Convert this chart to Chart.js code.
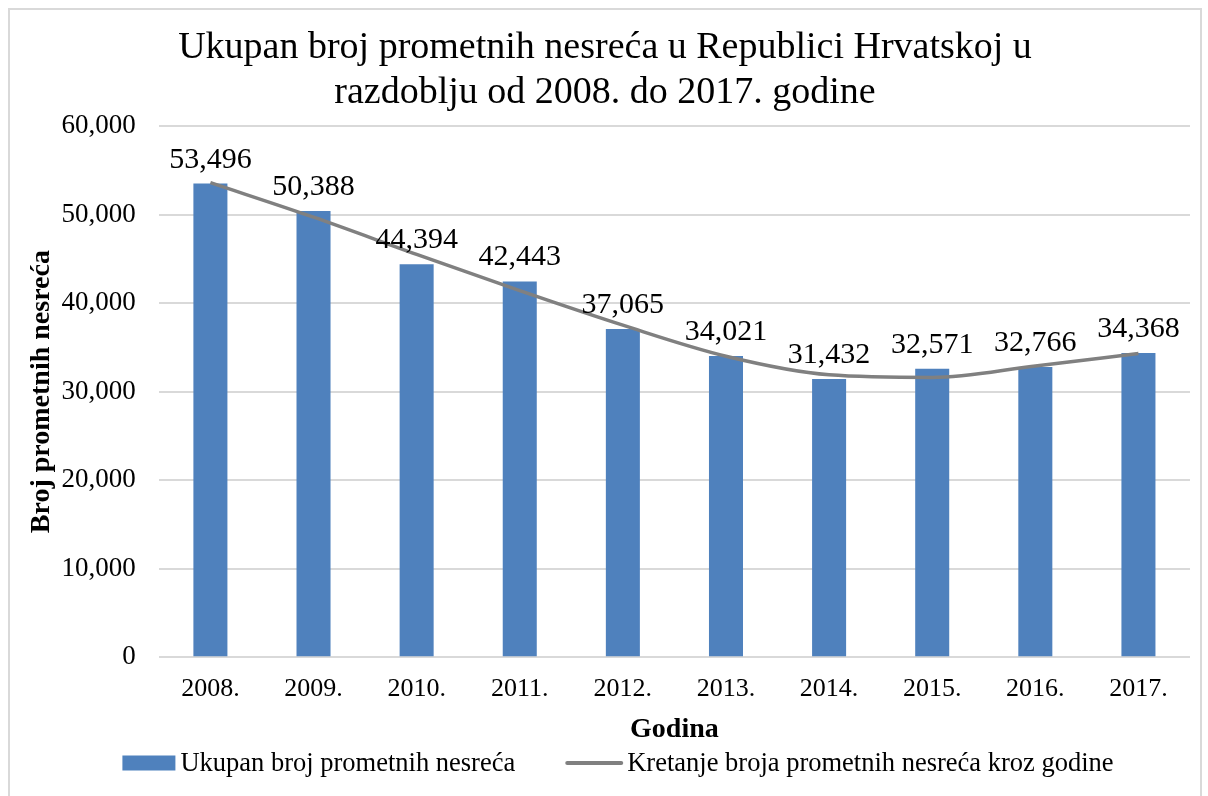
<!DOCTYPE html>
<html>
<head>
<meta charset="utf-8">
<script src="https://cdn.jsdelivr.net/npm/chart.js@4.4.0/dist/chart.umd.min.js"></script>
<style>
  html, body { margin: 0; padding: 0; background: #fff; }
  #wrap { position: relative; width: 1208px; height: 796px; overflow: hidden; }
  #frame { position: absolute; left: 8px; top: 8px; width: 1194px; height: 800px; border: 2px solid #d9d9d9; box-sizing: border-box; }
  canvas { position: absolute; left: 0; top: 0; }
</style>
</head>
<body>
<div id="wrap">
  <div id="frame"></div>
  <canvas id="accidentChart" width="1208" height="796"></canvas>
</div>
<script>
// Data
const years = ['2008.', '2009.', '2010.', '2011.', '2012.', '2013.', '2014.', '2015.', '2016.', '2017.'];
const accidents = [53496, 50388, 44394, 42443, 37065, 34021, 31432, 32571, 32766, 34368];
// trend line at each year
const trend = [53600, 49700, 45500, 41400, 37500, 34000, 31900, 31600, 32900, 34300];
const yTicks = [0, 10000, 20000, 30000, 40000, 50000, 60000];

const FONT = '"Liberation Serif", "Times New Roman", serif';
const BAR_COLOR = '#4f81bd';
const LINE_COLOR = '#808080';

function formatNumber(v) {
    return new Intl.NumberFormat('en-US').format(v);
}

// Value labels above the bars
const barLabels = {
    id: 'barLabels',
    afterDatasetsDraw(chart) {
        const ctx = chart.ctx;
        const meta = chart.getDatasetMeta(1);
        ctx.save();
        ctx.font = '30px ' + FONT;
        ctx.fillStyle = '#000';
        ctx.textAlign = 'center';
        ctx.textBaseline = 'alphabetic';
        meta.data.forEach((bar, i) => {
            ctx.fillText(formatNumber(accidents[i]), bar.x, bar.y - 16);
        });
        ctx.restore();
    }
};

// Excel style legend: box / line sitting close to its text
const bottomLegend = {
    id: 'bottomLegend',
    afterDraw(chart) {
        const ctx = chart.ctx;
        const barDs = chart.data.datasets[1];
        const lineDs = chart.data.datasets[0];
        ctx.save();
        ctx.font = '26.5px ' + FONT;
        ctx.textBaseline = 'middle';
        ctx.fillStyle = '#000';
        const w1 = ctx.measureText(barDs.label).width;
        const w2 = ctx.measureText(lineDs.label).width;
        const total = 53 + 5 + w1 + 52 + 54 + 6 + w2;
        const y = chart.height - 33;
        let x = chart.width / 2 + 14 - total / 2;

        ctx.fillStyle = BAR_COLOR;
        ctx.fillRect(x, y - 7.5, 53, 15);
        x += 58;
        ctx.fillStyle = '#000';
        ctx.fillText(barDs.label, x, y + 1);
        x += w1 + 52;

        ctx.strokeStyle = LINE_COLOR;
        ctx.lineWidth = 4;
        ctx.lineCap = 'round';
        ctx.beginPath();
        ctx.moveTo(x, y);
        ctx.lineTo(x + 54, y);
        ctx.stroke();
        x += 60;
        ctx.fillText(lineDs.label, x, y + 1);
        ctx.restore();
    }
};

const ctx = document.getElementById('accidentChart').getContext('2d');
new Chart(ctx, {
    data: {
        labels: years,
        datasets: [
            {
                type: 'line',
                label: 'Kretanje broja prometnih nesreća kroz godine',
                data: trend,
                borderColor: LINE_COLOR,
                backgroundColor: LINE_COLOR,
                borderWidth: 3.5,
                pointRadius: 0,
                cubicInterpolationMode: 'monotone',
                order: 0
            },
            {
                type: 'bar',
                label: 'Ukupan broj prometnih nesreća',
                data: accidents,
                backgroundColor: BAR_COLOR,
                categoryPercentage: 1,
                barPercentage: 0.33,
                order: 1
            }
        ]
    },
    plugins: [barLabels, bottomLegend],
    options: {
        responsive: false,
        animation: false,
        layout: { padding: { left: 20, right: 18, top: 14, bottom: 52 } },
        scales: {
            x: {
                grid: { display: false },
                border: { display: false },
                ticks: { color: '#000', font: { family: FONT, size: 26 }, padding: 8 },
                title: {
                    display: true,
                    text: 'Godina',
                    color: '#000',
                    font: { family: FONT, size: 28, weight: 'bold' },
                    padding: { top: 1, bottom: -3 }
                }
            },
            y: {
                min: 0,
                max: 60000,
                afterBuildTicks(axis) {
                    axis.ticks = yTicks.map(v => ({ value: v }));
                },
                grid: { color: '#d9d9d9', lineWidth: 2, drawTicks: false },
                border: { display: false },
                ticks: {
                    color: '#000',
                    font: { family: FONT, size: 27 },
                    padding: 23,
                    callback: v => formatNumber(v)
                },
                title: {
                    display: true,
                    text: 'Broj prometnih nesreća',
                    color: '#000',
                    font: { family: FONT, size: 28, weight: 'bold' },
                    padding: { top: 5, bottom: -20 }
                }
            }
        },
        plugins: {
            title: {
                display: true,
                text: ['Ukupan broj prometnih nesreća u Republici Hrvatskoj u', 'razdoblju od 2008. do 2017. godine'],
                color: '#000',
                font: { family: FONT, size: 38, weight: 'normal', lineHeight: 1.184 },
                padding: { top: 12, bottom: 10 }
            },
            legend: { display: false },
            tooltip: { enabled: false }
        }
    }
});
</script>
</body>
</html>
